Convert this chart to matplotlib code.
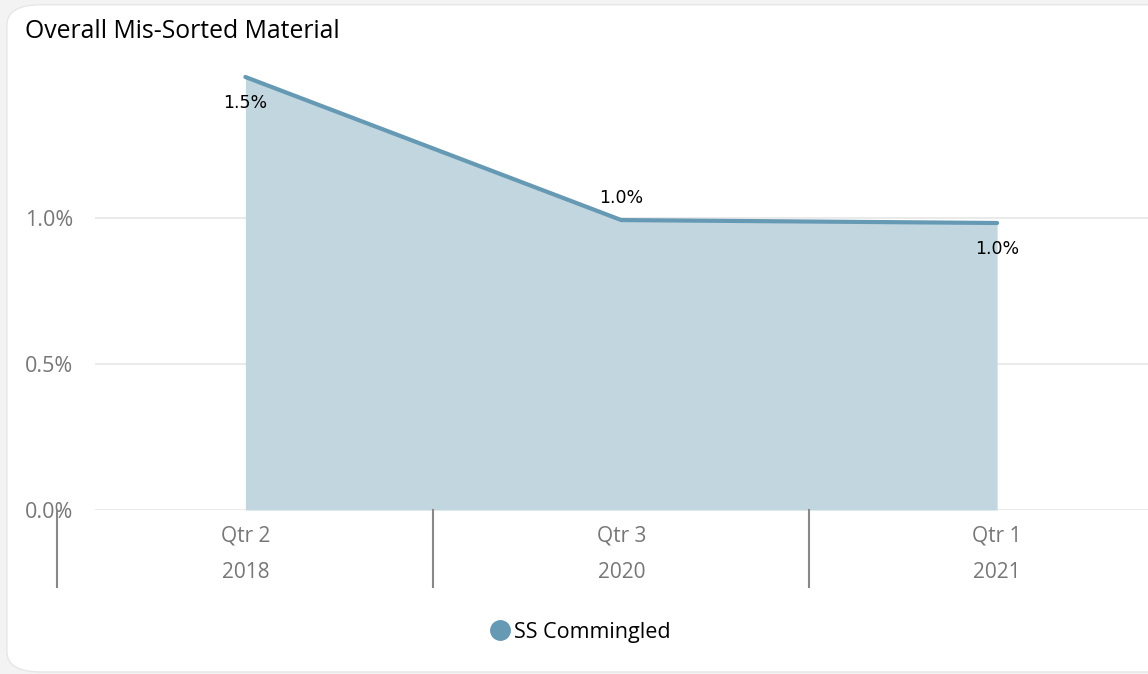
import matplotlib
matplotlib.use("Agg")
import matplotlib.pyplot as plt
from matplotlib.patches import FancyBboxPatch
from matplotlib.lines import Line2D

# data
quarters = ["Qtr 2", "Qtr 3", "Qtr 1"]
years = ["2018", "2020", "2021"]
mis_sorted = [1.483, 0.993, 0.983]
point_labels = ["1.5%", "1.0%", "1.0%"]
y_ticks = [0.0, 0.5, 1.0]

line_col = "#6699B4"
fill_col = "#C1D6DF"
grey = "#777777"

plt.rcParams["font.family"] = ["Open Sans", "DejaVu Sans"]

fig = plt.figure(figsize=(11.48, 6.74), dpi=100)
fig.patch.set_facecolor("#f3f3f3")

# white card
card = FancyBboxPatch((0.006, 0.003), 1.2, 0.99, boxstyle="round,pad=0,rounding_size=0.03",
                      transform=fig.transFigure, facecolor="white", edgecolor="#e6e6e6",
                      linewidth=1, zorder=-10)
fig.patches.append(card)

ax = fig.add_axes([0.0828, 0.2433, 0.92, 0.6715])
ax.set_facecolor("none")
ax.set_zorder(2)
x = list(range(len(quarters)))

ax.fill_between(x, 0, mis_sorted, color=fill_col, lw=0, zorder=2)
ax.plot(x, mis_sorted, color=line_col, lw=3, solid_capstyle="round", zorder=3, clip_on=False)

ax.set_xlim(-0.4, 2.41)
ax.set_ylim(0, 1.55)
ax.set_yticks(y_ticks)
ax.set_yticklabels([f"{v:.1f}%" for v in y_ticks])
ax.grid(axis="y", color="#e6e6e6", lw=1.2, zorder=1)
ax.set_xticks(x)
ax.set_xticklabels([f"{q}\n{y}" for q, y in zip(quarters, years)], linespacing=2.0)
ax.tick_params(axis="x", length=0, pad=11, labelsize=15, labelcolor=grey)
ax.tick_params(axis="y", length=0, pad=16, labelsize=15.5, labelcolor=grey)
for s in ax.spines.values():
    s.set_visible(False)

# category dividers below the axis
for b in [-0.5, 0.5, 1.5]:
    ax.plot([b, b], [0, -0.265], color="#888888", lw=1.5, clip_on=False, zorder=4)

# data labels
offsets = [-0.09, 0.075, -0.09]
for xi, v, lab, off in zip(x, mis_sorted, point_labels, offsets):
    ax.text(xi, v + off, lab, ha="center", va="center", fontsize=12.5,
            family=["Liberation Sans Narrow", "DejaVu Sans"], color="black", zorder=5)

fig.text(0.022, 0.953, "Overall Mis-Sorted Material", fontsize=17.8, color="black", va="center")

handle = Line2D([], [], marker="o", ls="none", color=line_col, markersize=14)
fig.legend([handle], ["SS Commingled"], loc="center", bbox_to_anchor=(0.506, 0.062),
           frameon=False, fontsize=15.5, handletextpad=0.2, handlelength=0.9)

fig.savefig("out.png", dpi=100, facecolor=fig.get_facecolor())
